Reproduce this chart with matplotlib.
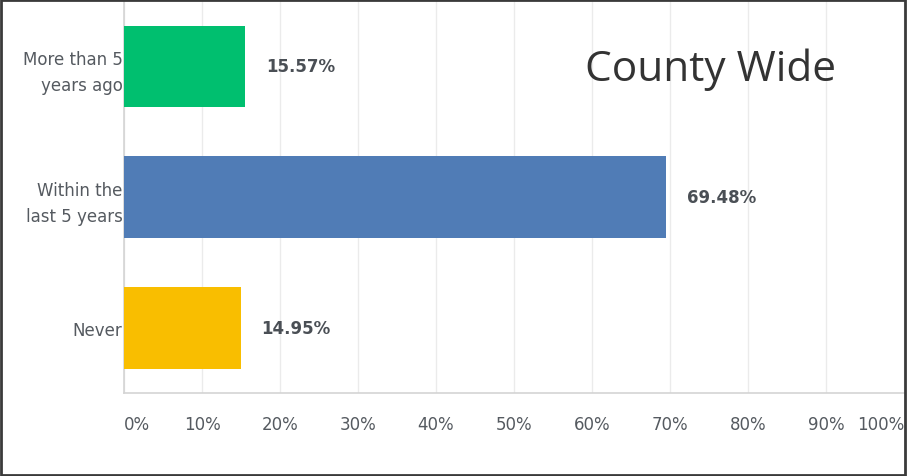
import matplotlib
matplotlib.use("Agg")
import matplotlib.pyplot as plt
from matplotlib.patches import Rectangle

# survey answers, top to bottom
categories = ["More than 5\nyears ago", "Within the\nlast 5 years", "Never"]
values = [15.57, 69.48, 14.95]
colors = ["#00bf6f", "#507cb6", "#f9be00"]
xticks = [0, 10, 20, 30, 40, 50, 60, 70, 80, 90, 100]
xtick_labels = [f"{t}%" for t in xticks]
title = "County Wide"

fig = plt.figure(figsize=(9.07, 4.77), dpi=100)
ax = fig.add_axes([124 / 907, 83 / 477, 780 / 907, 392 / 477])

ypos = list(range(len(categories)))
ax.barh(ypos, values, height=0.625, color=colors, zorder=3)

for y, v in zip(ypos, values):
    ax.annotate(f"{v:.2f}%", (v, y), xytext=(21, 0), textcoords="offset pixels",
                va="center", ha="left", fontsize=12, fontweight="bold",
                color="#4a4f55")

ax.set_xlim(0, 100)
ax.set_ylim(2.5, -0.5)
ax.set_yticks(ypos)
ax.set_yticklabels(categories, fontsize=12, color="#555a60", linespacing=1.55)
ax.set_xticks(xticks)
ax.set_xticklabels(xtick_labels, fontsize=12, color="#555a60")
labels = ax.get_xticklabels()
labels[0].set_ha("left")
labels[-1].set_ha("right")
ax.tick_params(axis="x", length=0, pad=16)
ax.tick_params(axis="y", length=0, pad=1)

ax.grid(axis="x", color="#ebebeb", linewidth=1, zorder=0)
for side in ["top", "right"]:
    ax.spines[side].set_visible(False)
for side in ["left", "bottom"]:
    ax.spines[side].set_color("#d4d4d4")
    ax.spines[side].set_linewidth(1.2)

fig.text(585 / 907, 1 - 70 / 477, title, fontsize=30.5, family="Open Sans",
         color="#333333", va="center", ha="left")

# dark frame round the picture
fig.patches.append(Rectangle((0.001, 0.002), 0.997, 0.995, transform=fig.transFigure,
                             fill=False, edgecolor="#3a3a3a", linewidth=2))

fig.savefig("out.png", dpi=100)
